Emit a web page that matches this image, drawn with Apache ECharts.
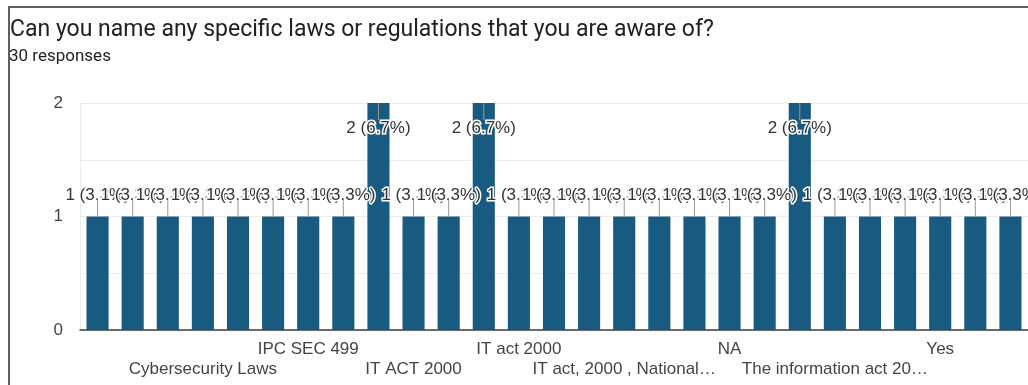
<!DOCTYPE html>
<html>
<head>
<meta charset="utf-8">
<script src="https://cdn.jsdelivr.net/npm/echarts@6/dist/echarts.min.js"></script>
<style>
  html, body { margin: 0; padding: 0; background: #fff; }
  #chart { width: 1028px; height: 385px; }
  #frame {
    position: absolute; left: 8px; top: 6px; width: 1040px; height: 400px;
    border-top: 2px solid #5f5f5f; border-left: 2px solid #5f5f5f;
    pointer-events: none;
  }
</style>
</head>
<body>
<div id="chart"></div>
<div id="frame"></div>
<script>
// Survey answers (sorted) and the number of respondents giving each one
const answers = [
  'Aadhaar Act', 'Consumer Protection Act', 'Copyright Act',
  'Cybersecurity Laws', 'Data Protection Bill', 'GDPR',
  'IPC SEC 499', 'IT ACT', 'IT ACT 2008',
  'IT ACT 2000', 'IT Act 2000 and IPC', 'IT act',
  'IT act 2000', 'IT act 2000 , 2008', 'IT act 2008',
  'IT act, 2000 , National Cyber Security Policy', 'Juvenile Justice Act', 'Motor Vehicles Act',
  'NA', 'Never heard', 'No',
  'The information act 2000, IPC', 'Trai regulations', 'Unsure',
  'Yes', 'Yes, IT Act', 'Yes, the IT act 2000'
];
const counts = [
  1, 1, 1,
  1, 1, 1,
  1, 1, 2,
  1, 1, 2,
  1, 1, 1,
  1, 1, 1,
  1, 1, 2,
  1, 1, 1,
  1, 1, 1
];
const totalResponses = 30;
const yTicks = [0, 1, 2];

const barColor = '#195a80';
const textColor = '#444';
const chartFont = '"Liberation Sans", Arial, sans-serif';
const yMax = yTicks[yTicks.length - 1];

const chart = echarts.init(document.getElementById('chart'), null, { renderer: 'canvas' });

const pct = v => (v / totalResponses * 100).toFixed(1);

const catLabel = (extra) => Object.assign({
  color: textColor,
  fontFamily: chartFont,
  fontSize: 17,
  width: 192, overflow: 'truncate', ellipsis: '…'
}, extra);

chart.setOption({
  animation: false,
  title: [
    {
      text: 'Can you name any specific laws or regulations that you are aware of?',
      left: 5, top: 14,
      textStyle: { fontFamily: 'Roboto', fontSize: 23, fontWeight: 'normal', color: '#202124' }
    },
    {
      text: totalResponses + ' responses',
      left: 4, top: 43,
      textStyle: { fontFamily: 'Roboto', fontSize: 17, fontWeight: 'normal', color: '#202124' }
    }
  ],
  grid: { left: 80, right: 0, top: 103, bottom: 55, containLabel: false },
  xAxis: [
    {
      type: 'category',
      data: answers,
      axisLine: { show: true, lineStyle: { color: '#3c3c3c', width: 1.5 } },
      axisTick: { show: false },
      axisLabel: catLabel({ interval: (i) => i > 0 && i % 6 === 0, margin: 11 })
    },
    {
      type: 'category',
      data: answers,
      position: 'bottom',
      axisLine: { show: false },
      axisTick: { show: false },
      axisLabel: catLabel({ interval: (i) => i % 6 === 3, margin: 31 })
    }
  ],
  yAxis: {
    type: 'value',
    min: 0, max: yMax, interval: 0.5,
    axisLine: { show: true, lineStyle: { color: '#ececec', width: 1 } },
    axisTick: { show: false },
    splitLine: { lineStyle: { color: '#ececec', width: 1 } },
    axisLabel: {
      margin: 17,
      color: textColor,
      fontFamily: chartFont,
      fontSize: 17,
      formatter: v => (yTicks.indexOf(v) >= 0 ? String(v) : '')
    }
  },
  series: [
    {
      type: 'bar',
      xAxisIndex: 0,
      z: 2,
      barWidth: '63%',
      itemStyle: { color: barColor },
      data: counts.map(v => {
        const atTop = v >= yMax;
        return {
          value: v,
          label: atTop
            ? { position: 'insideTop', distance: 17 }
            : { position: 'top', distance: 13 }
        };
      }),
      label: {
        show: true,
        formatter: p => p.value + ' (' + pct(p.value) + '%)',
        color: '#333',
        fontFamily: chartFont,
        fontSize: 17,
        textBorderColor: '#fff',
        textBorderWidth: 3
      }
    },
    {
      // short leader lines joining each bar to its value label
      type: 'custom',
      xAxisIndex: 0,
      z: 3,
      silent: true,
      data: counts,
      renderItem: (params, api) => {
        const v = api.value(0);
        const p = api.coord([params.dataIndex, v]);
        const dir = v >= yMax ? 1 : -1;
        return {
          type: 'line',
          shape: { x1: p[0], y1: p[1], x2: p[0], y2: p[1] + dir * 17 },
          style: { stroke: '#9a9a9a', lineWidth: 1 }
        };
      },
      encode: { x: -1, y: 0 }
    }
  ]
});
</script>
</body>
</html>
